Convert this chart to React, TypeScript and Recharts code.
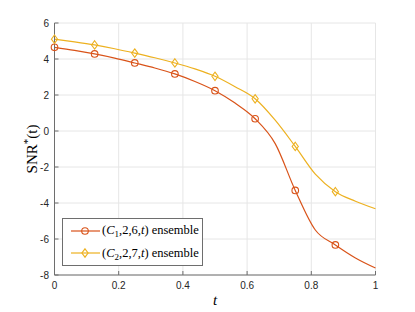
import React from "react";
import { LineChart, Line, XAxis, YAxis, CartesianGrid, Legend, Label } from "recharts";

// t samples (markers every 1/8)
const tValues = [0, 0.0625, 0.125, 0.1875, 0.25, 0.3125, 0.375, 0.4375, 0.5, 0.5625, 0.625, 0.6875, 0.75, 0.8125, 0.875, 0.9375, 1];
const c1Values = [4.65, 4.48, 4.28, 4.05, 3.78, 3.5, 3.17, 2.75, 2.24, 1.55, 0.68, -0.7, -3.3, -5.5, -6.33, -7.05, -7.61];
const c2Values = [5.1, 4.95, 4.78, 4.57, 4.33, 4.07, 3.78, 3.45, 3.04, 2.46, 1.79, 0.6, -0.86, -2.4, -3.37, -3.9, -4.32];

const xTicks = [0, 0.2, 0.4, 0.6, 0.8, 1];
const yTicks = [-8, -6, -4, -2, 0, 2, 4, 6];

const ORANGE = "#D95319";
const YELLOW = "#EDB120";
const AXIS = "#6e6e6e";
const TICK_FONT = '"Liberation Sans", Arial, sans-serif';
const SERIF = '"Liberation Serif", "Times New Roman", serif';

const data = tValues.map((t, i) => ({ t, c1: c1Values[i], c2: c2Values[i] }));

const isMarker = (t: number) => Math.abs(t * 8 - Math.round(t * 8)) < 1e-9 && t < 1;

function CircleDot(props: any) {
    const { cx, cy, index, payload } = props;
    if (!isMarker(payload.t)) return <g key={`c1-${index}`} />;
    return <circle key={`c1-${index}`} cx={cx} cy={cy} r={3.3} fill="none" stroke={ORANGE} strokeWidth={1.1} />;
}

function DiamondDot(props: any) {
    const { cx, cy, index, payload } = props;
    if (!isMarker(payload.t)) return <g key={`c2-${index}`} />;
    const pts = `${cx},${cy - 4.2} ${cx + 3.1},${cy} ${cx},${cy + 4.2} ${cx - 3.1},${cy}`;
    return <polygon key={`c2-${index}`} points={pts} fill="none" stroke={YELLOW} strokeWidth={1.1} />;
}

function LegendRow({ color, diamond, sub, nums }: { color: string; diamond: boolean; sub: string; nums: string }) {
    return (
        <div style={{ display: "flex", alignItems: "center", height: 22.5 }}>
            <svg width={39} height={12} style={{ flexShrink: 0 }}>
                <line x1={8} y1={6} x2={37} y2={6} stroke={color} strokeWidth={1.2} />
                {diamond ? (
                    <polygon points="22,1.8 25.1,6 22,10.2 18.9,6" fill="none" stroke={color} strokeWidth={1.1} />
                ) : (
                    <circle cx={22} cy={6} r={3.3} fill="none" stroke={color} strokeWidth={1.1} />
                )}
            </svg>
            <span style={{ whiteSpace: "nowrap" }}>
                (<i>C</i>
                <sub style={{ fontSize: 9, verticalAlign: "-3px", lineHeight: 0 }}>{sub}</sub>
                {nums}
                <i>t</i>) ensemble
            </span>
        </div>
    );
}

function LegendBox() {
    return (
        <div
            style={{
                width: 141,
                height: 48,
                boxSizing: "border-box",
                border: `1px solid ${AXIS}`,
                background: "#fff",
                fontFamily: SERIF,
                fontSize: 12.5,
                color: "#000",
                paddingTop: 0.5,
            }}
        >
            <LegendRow color={ORANGE} diamond={false} sub="1" nums=",2,6," />
            <LegendRow color={YELLOW} diamond={true} sub="2" nums=",2,7," />
        </div>
    );
}

function YLabel(props: any) {
    const { viewBox } = props;
    const cx = viewBox.x + 36;
    const cy = viewBox.y + viewBox.height / 2;
    return (
        <text
            x={cx}
            y={cy}
            transform={`rotate(-90, ${cx}, ${cy})`}
            textAnchor="middle"
            fontFamily={SERIF}
            fontSize={15}
            fill="#000"
        >
            SNR
            <tspan dy={-6} fontSize={11}>*</tspan>
            <tspan dy={6}>(t)</tspan>
        </text>
    );
}

export default function App() {
    return (
        <div style={{ position: "absolute", left: 0, top: 0, width: 415, height: 312, background: "#fff" }}>
            <LineChart width={415} height={312} data={data} margin={{ top: 23, right: 39.5, left: 0.5, bottom: 0 }}>
                <CartesianGrid stroke="#e6e6e6" strokeWidth={1} />
                <XAxis
                    dataKey="t"
                    type="number"
                    domain={[0, 1]}
                    ticks={xTicks}
                    height={37}
                    stroke={AXIS}
                    tickSize={-4}
                    tickMargin={11}
                    tick={{ fill: "#262626", fontSize: 10, fontFamily: TICK_FONT }}
                    tickFormatter={(v) => `${v}`}
                >
                    <Label value="t" position="insideBottom" offset={7} style={{ fontFamily: SERIF, fontStyle: "italic", fontSize: 15, fill: "#000" }} />
                </XAxis>
                <XAxis
                    xAxisId="top"
                    orientation="top"
                    dataKey="t"
                    type="number"
                    domain={[0, 1]}
                    ticks={xTicks}
                    height={0}
                    stroke={AXIS}
                    tickSize={-4}
                    tickFormatter={() => ""}
                />
                <YAxis
                    type="number"
                    domain={[-8, 6]}
                    ticks={yTicks}
                    width={54}
                    stroke={AXIS}
                    tickSize={-4}
                    tickMargin={9.5}
                    tick={{ fill: "#262626", fontSize: 10, fontFamily: TICK_FONT }}
                >
                    <Label content={<YLabel />} />
                </YAxis>
                <YAxis
                    yAxisId="right"
                    orientation="right"
                    type="number"
                    domain={[-8, 6]}
                    ticks={yTicks}
                    width={0}
                    stroke={AXIS}
                    tickSize={-4}
                    tickFormatter={() => ""}
                />
                <Legend
                    layout="vertical"
                    align="center"
                    verticalAlign="middle"
                    content={() => <LegendBox />}
                    wrapperStyle={{ left: 62, top: 218, width: 141, height: 48 }}
                />
                <Line
                    type="monotone"
                    dataKey="c1"
                    stroke={ORANGE}
                    strokeWidth={1.2}
                    dot={CircleDot}
                    activeDot={false}
                    isAnimationActive={false}
                />
                <Line
                    type="monotone"
                    dataKey="c2"
                    stroke={YELLOW}
                    strokeWidth={1.2}
                    dot={DiamondDot}
                    activeDot={false}
                    isAnimationActive={false}
                />
            </LineChart>
        </div>
    );
}
